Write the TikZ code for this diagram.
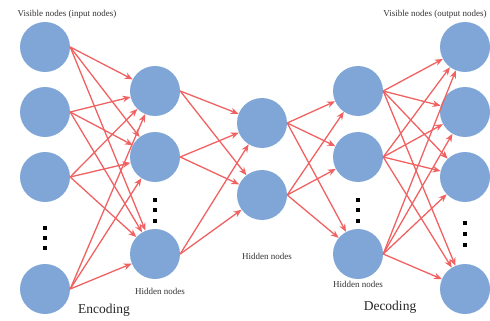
\documentclass[tikz,border=0pt]{standalone}
\usepackage{fontspec}
\setmainfont{Liberation Serif}
\usetikzlibrary{arrows.meta}
\definecolor{nodeblue}{RGB}{127,166,214}
\definecolor{linkred}{RGB}{240,98,98}

\begin{document}
\begin{tikzpicture}[x=1pt,y=-1pt,
  unit/.style={circle,fill=nodeblue,minimum size=50pt,inner sep=0pt},
  link/.style={draw=linkred,line width=1.3pt,
    -{Stealth[length=8pt,width=6.5pt]}},
  label/.style={font=\fontsize{9}{11}\selectfont,text=black!80},
  phase/.style={font=\fontsize{13.5}{16}\selectfont,text=black!85}]
  \useasboundingbox
    (0,0)
    rectangle
    (490,321);
  % visible nodes (input)
  \node[unit] (in1) at (45,47) {};
  \node[unit] (in2) at (45,112) {};
  \node[unit] (in3) at (45,177) {};
  \node[unit] (in4) at (45,289) {};
  % hidden nodes (encoding)
  \node[unit] (enc1) at (155,91) {};
  \node[unit] (enc2) at (155,157) {};
  \node[unit] (enc3) at (155,254) {};
  % hidden nodes (middle)
  \node[unit] (mid1) at (262,123) {};
  \node[unit] (mid2) at (262,195) {};
  % hidden nodes (decoding)
  \node[unit] (dec1) at (358,91) {};
  \node[unit] (dec2) at (358,157) {};
  \node[unit] (dec3) at (358,254) {};
  % visible nodes (output)
  \node[unit] (out1) at (465,47) {};
  \node[unit] (out2) at (465,112) {};
  \node[unit] (out3) at (465,177) {};
  \node[unit] (out4) at (465,289) {};
  % dots
  \fill (43,226) rectangle (47,230);
  \fill (43,236) rectangle (47,240);
  \fill (43,246) rectangle (47,250);
  \fill (153,198) rectangle (157,202);
  \fill (153,208) rectangle (157,212);
  \fill (153,219) rectangle (157,223);
  \fill (356,198) rectangle (360,202);
  \fill (356,208) rectangle (360,212);
  \fill (356,219) rectangle (360,223);
  \fill (463,221) rectangle (467,225);
  \fill (463,232) rectangle (467,236);
  \fill (463,243) rectangle (467,247);
  % input -> encoding
  \draw[link] (in1.east) -- (enc1);
  \draw[link] (in1.east) -- (enc2);
  \draw[link] (in1.east) -- (enc3);
  \draw[link] (in2.east) -- (enc1);
  \draw[link] (in2.east) -- (enc2);
  \draw[link] (in2.east) -- (enc3);
  \draw[link] (in3.east) -- (enc1);
  \draw[link] (in3.east) -- (enc2);
  \draw[link] (in3.east) -- (enc3);
  \draw[link] (in4.east) -- (enc1);
  \draw[link] (in4.east) -- (enc2);
  \draw[link] (in4.east) -- (enc3);
  % encoding -> middle
  \draw[link] (enc1.east) -- (mid1);
  \draw[link] (enc1.east) -- (mid2);
  \draw[link] (enc2.east) -- (mid1);
  \draw[link] (enc2.east) -- (mid2);
  \draw[link] (enc3.east) -- (mid1);
  \draw[link] (enc3.east) -- (mid2);
  % middle -> decoding
  \draw[link] (mid1.east) -- (dec1);
  \draw[link] (mid1.east) -- (dec2);
  \draw[link] (mid1.east) -- (dec3);
  \draw[link] (mid2.east) -- (dec1);
  \draw[link] (mid2.east) -- (dec2);
  \draw[link] (mid2.east) -- (dec3);
  % decoding -> output
  \draw[link] (dec1.east) -- (out1);
  \draw[link] (dec1.east) -- (out2);
  \draw[link] (dec1.east) -- (out3);
  \draw[link] (dec1.east) -- (out4);
  \draw[link] (dec2.east) -- (out1);
  \draw[link] (dec2.east) -- (out2);
  \draw[link] (dec2.east) -- (out3);
  \draw[link] (dec2.east) -- (out4);
  \draw[link] (dec3.east) -- (out1);
  \draw[link] (dec3.east) -- (out2);
  \draw[link] (dec3.east) -- (out3);
  \draw[link] (dec3.east) -- (out4);
  % labels
  \node[label] (inlabel) at (67,14) {Visible nodes (input nodes)};
  \node[label] (outlabel) at (435,14) {Visible nodes (output nodes)};
  \node[label] (enclabel) at (160,291) {Hidden nodes};
  \node[label] (midlabel) at (267,256) {Hidden nodes};
  \node[label] (declabel) at (358,284) {Hidden nodes};
  \node[phase] (encoding) at (104,310) {Encoding};
  \node[phase] (decoding) at (390,307) {Decoding};
\end{tikzpicture}
\end{document}
